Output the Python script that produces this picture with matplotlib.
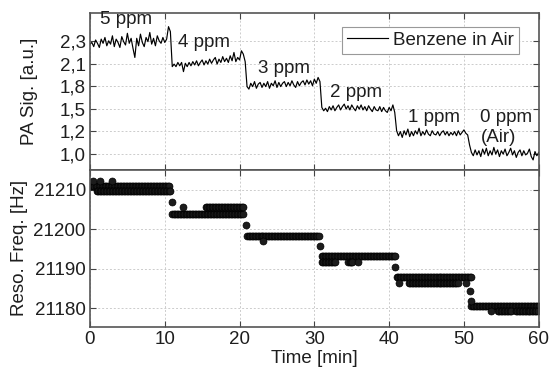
import numpy as np
import matplotlib
matplotlib.use("Agg")
import matplotlib.pyplot as plt
from matplotlib.ticker import FixedLocator, FixedFormatter

plt.rcParams['font.family'] = ['Liberation Sans', 'DejaVu Sans']

# PA signal, one sample every 0.25 min from 0 to 60 min
dt_sig = 0.25
sig_5ppm = [2.29, 2.31, 2.26, 2.34, 2.30, 2.25, 2.35, 2.30, 2.37, 2.27,
            2.33, 2.29, 2.39, 2.26, 2.35, 2.31, 2.25, 2.38, 2.32, 2.28,
            2.42, 2.30, 2.36, 2.24, 2.13, 2.36, 2.27, 2.41, 2.31, 2.26,
            2.37, 2.32, 2.43, 2.29, 2.36, 2.27, 2.39, 2.33, 2.30, 2.37,
            2.31, 2.35, 2.50, 2.44]
sig_4ppm = [2.02, 2.05, 2.02, 2.07, 2.03, 2.07, 1.96, 2.06, 2.02, 2.07,
            2.03, 2.08, 2.04, 2.09, 2.03, 2.07, 2.10, 2.04, 2.09, 2.05,
            2.11, 2.06, 2.10, 2.13, 2.05, 2.11, 2.07, 2.14, 2.08, 2.12,
            2.07, 2.15, 2.09, 2.19, 2.08, 2.13, 2.10, 2.21, 2.17, 2.08]
sig_3ppm = [1.78, 1.75, 1.82, 1.78, 1.84, 1.76, 1.81, 1.83, 1.77, 1.82,
            1.78, 1.84, 1.76, 1.82, 1.79, 1.85, 1.77, 1.83, 1.78, 1.82,
            1.84, 1.78, 1.83, 1.79, 1.85, 1.80, 1.77, 1.84, 1.79, 1.83,
            1.85, 1.80, 1.86, 1.81, 1.85, 1.79, 1.87, 1.82, 1.89, 1.84]
sig_2ppm = [1.53, 1.49, 1.52, 1.48, 1.54, 1.50, 1.55, 1.49, 1.53, 1.56,
            1.50, 1.54, 1.57, 1.51, 1.55, 1.50, 1.56, 1.52, 1.49, 1.55,
            1.51, 1.56, 1.50, 1.54, 1.49, 1.55, 1.51, 1.48, 1.54, 1.50,
            1.49, 1.54, 1.48, 1.53, 1.49, 1.47, 1.53, 1.49, 1.56, 1.47]
sig_1ppm = [1.25, 1.19, 1.24, 1.17, 1.25, 1.20, 1.27, 1.18, 1.24, 1.19,
            1.25, 1.21, 1.28, 1.19, 1.24, 1.20, 1.26, 1.21, 1.19, 1.25,
            1.21, 1.20, 1.24, 1.19, 1.23, 1.25, 1.20, 1.24, 1.19, 1.23,
            1.20, 1.24, 1.19, 1.25, 1.20, 1.23, 1.26, 1.22, 1.20, 1.08]
sig_0ppm = [0.99, 0.95, 1.02, 0.96, 1.01, 0.94, 1.03, 0.97, 1.04, 0.95,
            1.01, 0.96, 1.05, 0.97, 1.02, 0.94, 1.01, 0.97, 1.03, 0.95,
            0.99, 1.04, 0.96, 1.01, 0.93, 0.99, 1.02, 0.95, 1.01, 0.96,
            0.98, 1.03, 0.94, 0.90, 1.00, 0.95, 0.99]

# resonance frequency: constant rows (start min, end min, Hz), sampled every 0.2 min
dt_freq = 0.2
freq_rows = [(0.0, 10.7, 21210.9), (0.9, 10.7, 21209.7),
             (11.0, 20.5, 21203.9), (15.5, 20.5, 21205.6),
             (21.0, 30.7, 21198.3),
             (31.0, 40.8, 21193.1), (31.0, 32.8, 21191.6), (34.5, 35.2, 21191.6),
             (41.0, 51.0, 21187.9), (42.6, 49.2, 21186.4),
             (51.0, 60.0, 21180.6), (54.5, 56.4, 21179.2), (56.9, 60.0, 21179.2)]
# single off-row points (min, Hz)
freq_single = [(0.4, 21212.2), (1.3, 21212.2), (2.9, 21212.2),
               (11.0, 21206.9), (12.4, 21205.6), (20.8, 21201.0),
               (23.1, 21197.0), (30.8, 21195.8), (35.8, 21191.6),
               (40.8, 21190.4), (41.3, 21186.4), (50.3, 21186.4),
               (50.8, 21184.4), (50.9, 21181.8), (53.6, 21179.2)]

labels_ppm = ['5 ppm', '4 ppm', '3 ppm', '2 ppm', '1 ppm', '0 ppm', '(Air)']
label_t = [1.3, 11.8, 22.5, 32.1, 42.5, 52.2, 52.3]
label_y = [2.59, 2.305, 2.0, 1.706, 1.415, 1.415, 1.164]

sig_ticks = [0.975, 1.245, 1.515, 1.785, 2.055, 2.325]
sig_ticklabels = ['1,0', '1,2', '1,5', '1,8', '2,1', '2,3']

signal = np.array(sig_5ppm + sig_4ppm + sig_3ppm + sig_2ppm + sig_1ppm + sig_0ppm)
t_sig = np.arange(len(signal)) * dt_sig

t_f, f_f = [], []
for t0, t1, f in freq_rows:
    tt = np.arange(t0, t1 + 1e-9, dt_freq)
    t_f.extend(tt)
    f_f.extend([f] * len(tt))
for t, f in freq_single:
    t_f.append(t)
    f_f.append(f)

txt = '#1e1e1e'
fs = 13.5
fig, (ax1, ax2) = plt.subplots(2, 1, sharex=True, figsize=(5.5, 3.72), dpi=100)
fig.subplots_adjust(left=0.1636, right=0.9795, bottom=0.121, top=0.966, hspace=0)

ax1.plot(t_sig, signal, color='black', lw=0.85, label='Benzene in Air')
for s, x, y in zip(labels_ppm, label_t, label_y):
    ax1.text(x, y, s, fontsize=fs, color=txt, va='center', ha='left')
ax1.set_ylim(0.781, 2.668)
ax1.yaxis.set_major_locator(FixedLocator(sig_ticks))
ax1.yaxis.set_major_formatter(FixedFormatter(sig_ticklabels))
ax1.set_ylabel('PA Sig. [a.u.]', fontsize=fs, color=txt, labelpad=16)
leg = ax1.legend(loc='upper right', bbox_to_anchor=(0.956, 0.908), borderaxespad=0,
                 fancybox=False, fontsize=fs, handlelength=2.2, handletextpad=0.3,
                 borderpad=0.25, framealpha=1)
leg.get_frame().set_edgecolor('#999999')
leg.get_frame().set_linewidth(0.8)
for txo in leg.get_texts():
    txo.set_color(txt)

ax2.plot(t_f, f_f, ls='none', marker='o', ms=5.0, mfc='#1c1c1c', mec='black', mew=0.5)
ax2.set_ylim(21175.2, 21215.1)
ax2.set_yticks([21180, 21190, 21200, 21210])
ax2.set_ylabel('Reso. Freq. [Hz]', fontsize=fs, color=txt)
ax2.set_xlim(0, 60)
ax2.set_xticks(range(0, 61, 10))
ax2.set_xlabel('Time [min]', fontsize=fs, color=txt, labelpad=1)

for ax in (ax1, ax2):
    ax.grid(True, color='#cccccc', ls=(0, (2, 2)), lw=0.7)
    ax.tick_params(direction='in', top=True, right=True, length=4, width=0.8,
                   labelsize=fs, colors='#444444', labelcolor=txt, pad=3)
    for sp in ax.spines.values():
        sp.set_color('#555555')
        sp.set_linewidth(1.2)

fig.savefig('out.png', dpi=100)
